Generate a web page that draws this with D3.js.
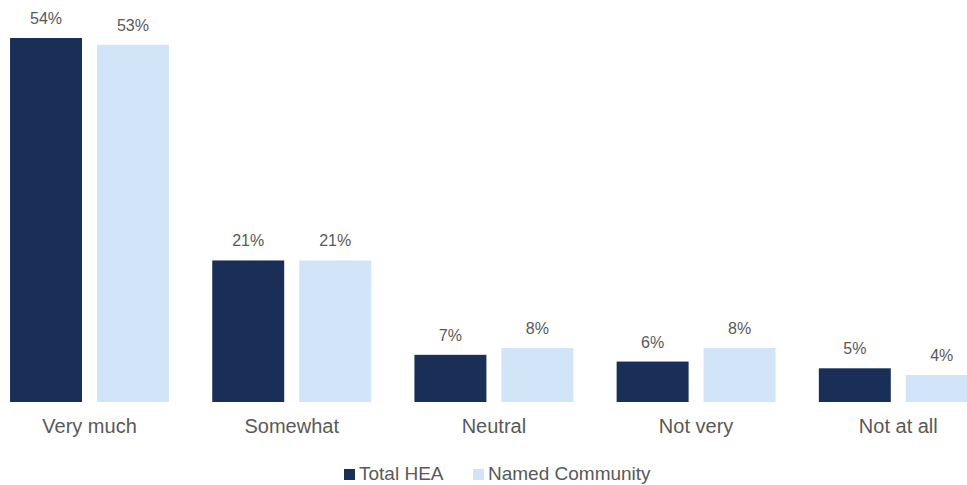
<!DOCTYPE html>
<html>
<head>
<meta charset="utf-8">
<script src="https://cdn.jsdelivr.net/npm/d3@7"></script>
<style>
  html, body { margin: 0; padding: 0; background: #fff; }
  svg { display: block; font-family: "Liberation Sans", Arial, sans-serif; }
</style>
</head>
<body>
<svg id="chart" width="967" height="485"></svg>
<script>
// Response categories along the x axis
const categories = ["Very much", "Somewhat", "Neutral", "Not very", "Not at all"];
// Series names and their percentages per category
const seriesNames = ["Total HEA", "Named Community"];
const totalHEA = [54, 21, 7, 6, 5];
const namedCommunity = [53, 21, 8, 8, 4];
const seriesColors = ["#1a2f57", "#d1e4f8"];

const seriesValues = [totalHEA, namedCommunity];
const svg = d3.select("#chart");

const x0 = d3.scaleBand()
  .domain(categories)
  .range([-11.6, 999.4])
  .paddingInner(0.214)
  .paddingOuter(0.107);

const x1 = d3.scaleBand()
  .domain(seriesNames)
  .range([0, x0.bandwidth()])
  .paddingInner(0.1724)
  .paddingOuter(0);

const y = d3.scaleLinear().domain([0, 54]).range([402, 38]);

const rows = categories.map((c, i) => ({
  category: c,
  values: seriesNames.map((s, j) => ({ series: s, idx: j, value: seriesValues[j][i] }))
}));

const groups = svg.append("g").selectAll("g")
  .data(rows)
  .join("g")
  .attr("transform", d => `translate(${x0(d.category)},0)`);

groups.selectAll("rect")
  .data(d => d.values)
  .join("rect")
  .attr("x", d => x1(d.series))
  .attr("y", d => y(d.value))
  .attr("width", x1.bandwidth())
  .attr("height", d => y(0) - y(d.value))
  .attr("fill", d => seriesColors[d.idx]);

groups.selectAll("text.val")
  .data(d => d.values)
  .join("text")
  .attr("class", "val")
  .attr("x", d => x1(d.series) + x1.bandwidth() / 2)
  .attr("y", d => y(d.value) - 14)
  .attr("text-anchor", "middle")
  .attr("font-size", 16)
  .attr("fill", "#595959")
  .text(d => d.value + "%");

// Category axis labels
const xAxis = d3.axisBottom(x0).tickSize(0).tickPadding(0);
const axisG = svg.append("g").attr("transform", `translate(0,${y(0)})`).call(xAxis);
axisG.select(".domain").remove();
axisG.selectAll("text")
  .attr("dy", null)
  .attr("y", 31)
  .attr("font-size", 20)
  .attr("font-family", "Liberation Sans, Arial, sans-serif")
  .attr("fill", "#595959");

// Legend
const legendX = [344, 473];
const legend = svg.append("g").selectAll("g")
  .data(seriesNames)
  .join("g")
  .attr("transform", (d, i) => `translate(${legendX[i]},469)`);
legend.append("rect")
  .attr("width", 11).attr("height", 11)
  .attr("fill", (d, i) => seriesColors[i]);
legend.append("text")
  .attr("x", 15).attr("y", 11)
  .attr("font-size", 19)
  .attr("fill", "#595959")
  .text(d => d);
</script>
</body>
</html>
